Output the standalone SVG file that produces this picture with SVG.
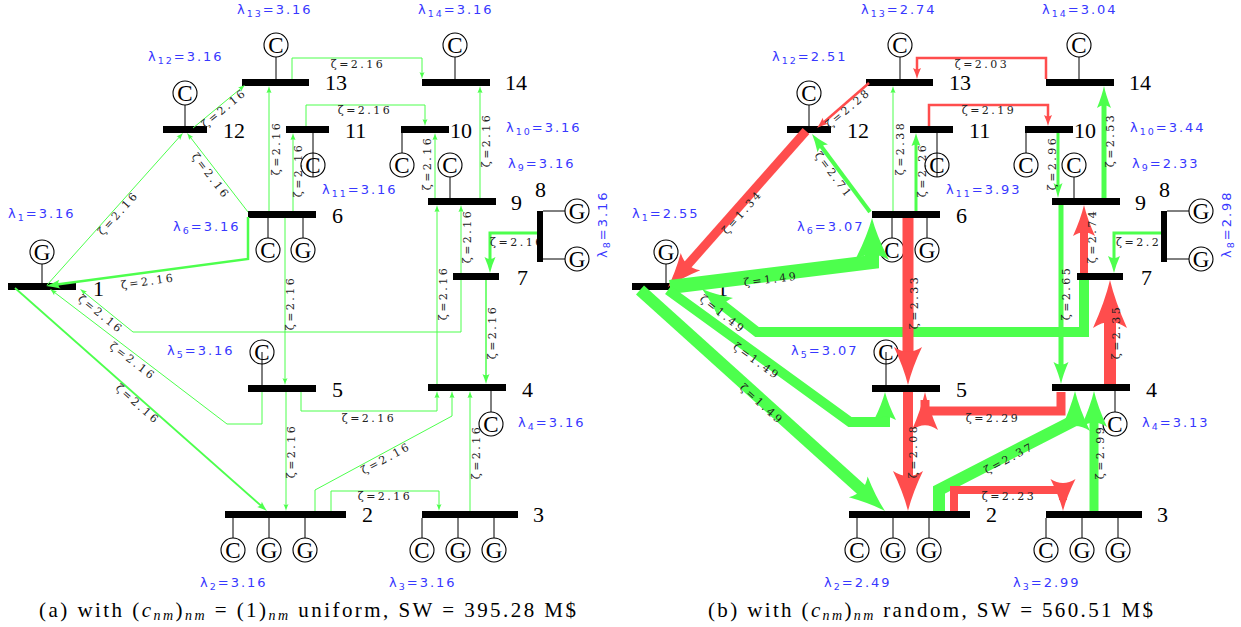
<svg xmlns="http://www.w3.org/2000/svg" width="1241" height="627" viewBox="0 0 1241 627">
<style>
.bar{fill:#000}
.stem{stroke:#000;stroke-width:1;fill:none}
.lam{font-family:'DejaVu Sans',sans-serif;font-size:13px;fill:#3838ff;letter-spacing:2px}
.sub{font-size:9.5px}
.num{font-family:'Liberation Serif',serif;font-size:22px;fill:#000}
.z{font-family:'DejaVu Serif',serif;font-size:11px;fill:#222;letter-spacing:2.5px;text-anchor:middle}
.zs{font-family:'DejaVu Serif',serif;font-size:11px;fill:#222;letter-spacing:2.5px}
.gl{stroke:#4dff4d;fill:none}
.rl{stroke:#ff4d4d;fill:none}
.gh{fill:#4dff4d}
.rh{fill:#ff4d4d}
.cap{font-family:'Liberation Serif',serif;font-size:21px;fill:#000}
.cs{font-size:14px;font-style:italic}
.sym{font-family:'Liberation Serif',serif;font-size:23px;text-anchor:middle}
</style>
<defs>
<path id="ah" d="M0,0 Q-0.45,0.15 -1,0.5 Q-0.75,0 -1,-0.5 Q-0.45,-0.15 0,0Z"/>
<g id="sC"><circle r="12" fill="none" stroke="#000" stroke-width="1.1"/><text class="sym" y="8">C</text></g>
<g id="sG"><circle r="12" fill="none" stroke="#000" stroke-width="1.1"/><text class="sym" y="8">G</text></g>
</defs>
<rect width="1241" height="627" fill="#fff"/>

<!-- ===== Panel (a) nodes ===== -->
<g id="a-bus1"><rect class="bar" x="8" y="283" width="68" height="7"/><line class="stem" x1="42" y1="264" x2="42" y2="283"/><use href="#sG" x="42" y="252"/><text class="num" x="93" y="296">1</text><text class="lam" x="8" y="218">λ<tspan class="sub" dy="3">1</tspan><tspan dy="-3">=3.16</tspan></text></g>
<g id="a-bus12"><rect class="bar" x="163" y="126" width="44" height="7"/><line class="stem" x1="185" y1="105" x2="185" y2="126"/><use href="#sC" x="185" y="93"/><text class="num" x="223" y="138">12</text><text class="lam" x="148" y="61">λ<tspan class="sub" dy="3">12</tspan><tspan dy="-3">=3.16</tspan></text></g>
<g id="a-bus13"><rect class="bar" x="242" y="79" width="67" height="7"/><line class="stem" x1="276" y1="57" x2="276" y2="79"/><use href="#sC" x="276" y="45"/><text class="num" x="325" y="90">13</text><text class="lam" x="237" y="14">λ<tspan class="sub" dy="3">13</tspan><tspan dy="-3">=3.16</tspan></text></g>
<g id="a-bus14"><rect class="bar" x="422" y="79" width="68" height="7"/><line class="stem" x1="455" y1="57" x2="455" y2="79"/><use href="#sC" x="455" y="45"/><text class="num" x="505" y="90">14</text><text class="lam" x="418" y="14">λ<tspan class="sub" dy="3">14</tspan><tspan dy="-3">=3.16</tspan></text></g>
<g id="a-bus11"><rect class="bar" x="286" y="126" width="43" height="7"/><line class="stem" x1="313" y1="133" x2="313" y2="177"/><use href="#sC" x="313" y="165"/><text class="num" x="345" y="138">11</text><text class="lam" x="322" y="194">λ<tspan class="sub" dy="3">11</tspan><tspan dy="-3">=3.16</tspan></text></g>
<g id="a-bus10"><rect class="bar" x="401" y="126" width="48" height="7"/><line class="stem" x1="402" y1="133" x2="402" y2="153"/><use href="#sC" x="402" y="165"/><text class="num" x="450" y="138">10</text><text class="lam" x="506" y="132">λ<tspan class="sub" dy="3">10</tspan><tspan dy="-3">=3.16</tspan></text></g>
<g id="a-bus9"><rect class="bar" x="428" y="198" width="68" height="7"/><line class="stem" x1="450" y1="177" x2="450" y2="198"/><use href="#sC" x="450" y="165"/><text class="num" x="511" y="210">9</text><text class="lam" x="508" y="168">λ<tspan class="sub" dy="3">9</tspan><tspan dy="-3">=3.16</tspan></text></g>
<g id="a-bus6"><rect class="bar" x="248" y="211" width="68" height="7"/><line class="stem" x1="268" y1="218" x2="268" y2="238"/><line class="stem" x1="303" y1="218" x2="303" y2="238"/><use href="#sC" x="268" y="250"/><use href="#sG" x="303" y="250"/><text class="num" x="332" y="223">6</text><text class="lam" x="173" y="231">λ<tspan class="sub" dy="3">6</tspan><tspan dy="-3">=3.16</tspan></text></g>
<g id="a-bus7"><rect class="bar" x="453" y="273" width="46" height="7"/><text class="num" x="517" y="285">7</text></g>
<g id="a-bus5"><rect class="bar" x="248" y="385" width="68" height="7"/><line class="stem" x1="262" y1="352" x2="262" y2="385"/><use href="#sC" x="262" y="352"/><text class="num" x="332" y="397">5</text><text class="lam" x="167" y="355">λ<tspan class="sub" dy="3">5</tspan><tspan dy="-3">=3.16</tspan></text></g>
<g id="a-bus4"><rect class="bar" x="428" y="384" width="78" height="7"/><line class="stem" x1="491" y1="391" x2="491" y2="412"/><use href="#sC" x="491" y="424"/><text class="num" x="522" y="397">4</text><text class="lam" x="518" y="427">λ<tspan class="sub" dy="3">4</tspan><tspan dy="-3">=3.16</tspan></text></g>
<g id="a-bus2"><rect class="bar" x="225" y="511" width="121" height="7"/><line class="stem" x1="233" y1="518" x2="233" y2="538"/><line class="stem" x1="269" y1="518" x2="269" y2="538"/><line class="stem" x1="305" y1="518" x2="305" y2="538"/><use href="#sC" x="233" y="550"/><use href="#sG" x="269" y="550"/><use href="#sG" x="305" y="550"/><text class="num" x="362" y="522">2</text><text class="lam" x="200" y="587">λ<tspan class="sub" dy="3">2</tspan><tspan dy="-3">=3.16</tspan></text></g>
<g id="a-bus3"><rect class="bar" x="422" y="511" width="96" height="7"/><line class="stem" x1="422" y1="518" x2="422" y2="538"/><line class="stem" x1="458" y1="518" x2="458" y2="538"/><line class="stem" x1="494" y1="518" x2="494" y2="538"/><use href="#sC" x="422" y="550"/><use href="#sG" x="458" y="550"/><use href="#sG" x="494" y="550"/><text class="num" x="533" y="522">3</text><text class="lam" x="389" y="587">λ<tspan class="sub" dy="3">3</tspan><tspan dy="-3">=3.16</tspan></text></g>

<!-- ===== Panel (b) nodes ===== -->
<g id="b-bus1" transform="translate(624,0)"><rect class="bar" x="8" y="283" width="68" height="7"/><line class="stem" x1="42" y1="264" x2="42" y2="283"/><use href="#sG" x="42" y="252"/><text class="num" x="93" y="296">1</text><text class="lam" x="8" y="218">λ<tspan class="sub" dy="3">1</tspan><tspan dy="-3">=2.55</tspan></text></g>
<g id="b-bus12" transform="translate(624,0)"><rect class="bar" x="163" y="126" width="44" height="7"/><line class="stem" x1="185" y1="105" x2="185" y2="126"/><use href="#sC" x="185" y="93"/><text class="num" x="223" y="138">12</text><text class="lam" x="148" y="61">λ<tspan class="sub" dy="3">12</tspan><tspan dy="-3">=2.51</tspan></text></g>
<g id="b-bus13" transform="translate(624,0)"><rect class="bar" x="242" y="79" width="67" height="7"/><line class="stem" x1="276" y1="57" x2="276" y2="79"/><use href="#sC" x="276" y="45"/><text class="num" x="325" y="90">13</text><text class="lam" x="237" y="14">λ<tspan class="sub" dy="3">13</tspan><tspan dy="-3">=2.74</tspan></text></g>
<g id="b-bus14" transform="translate(624,0)"><rect class="bar" x="422" y="79" width="68" height="7"/><line class="stem" x1="455" y1="57" x2="455" y2="79"/><use href="#sC" x="455" y="45"/><text class="num" x="505" y="90">14</text><text class="lam" x="418" y="14">λ<tspan class="sub" dy="3">14</tspan><tspan dy="-3">=3.04</tspan></text></g>
<g id="b-bus11" transform="translate(624,0)"><rect class="bar" x="286" y="126" width="43" height="7"/><line class="stem" x1="313" y1="133" x2="313" y2="177"/><use href="#sC" x="313" y="165"/><text class="num" x="345" y="138">11</text><text class="lam" x="322" y="194">λ<tspan class="sub" dy="3">11</tspan><tspan dy="-3">=3.93</tspan></text></g>
<g id="b-bus10" transform="translate(624,0)"><rect class="bar" x="401" y="126" width="48" height="7"/><line class="stem" x1="402" y1="133" x2="402" y2="153"/><use href="#sC" x="402" y="165"/><text class="num" x="450" y="138">10</text><text class="lam" x="506" y="132">λ<tspan class="sub" dy="3">10</tspan><tspan dy="-3">=3.44</tspan></text></g>
<g id="b-bus9" transform="translate(624,0)"><rect class="bar" x="428" y="198" width="68" height="7"/><line class="stem" x1="450" y1="177" x2="450" y2="198"/><use href="#sC" x="450" y="165"/><text class="num" x="511" y="210">9</text><text class="lam" x="508" y="168">λ<tspan class="sub" dy="3">9</tspan><tspan dy="-3">=2.33</tspan></text></g>
<g id="b-bus6" transform="translate(624,0)"><rect class="bar" x="248" y="211" width="68" height="7"/><line class="stem" x1="268" y1="218" x2="268" y2="238"/><line class="stem" x1="303" y1="218" x2="303" y2="238"/><use href="#sC" x="268" y="250"/><use href="#sG" x="303" y="250"/><text class="num" x="332" y="223">6</text><text class="lam" x="173" y="231">λ<tspan class="sub" dy="3">6</tspan><tspan dy="-3">=3.07</tspan></text></g>
<g id="b-bus7" transform="translate(624,0)"><rect class="bar" x="453" y="273" width="46" height="7"/><text class="num" x="517" y="285">7</text></g>
<g id="b-bus5" transform="translate(624,0)"><rect class="bar" x="248" y="385" width="68" height="7"/><line class="stem" x1="262" y1="352" x2="262" y2="385"/><use href="#sC" x="262" y="352"/><text class="num" x="332" y="397">5</text><text class="lam" x="167" y="355">λ<tspan class="sub" dy="3">5</tspan><tspan dy="-3">=3.07</tspan></text></g>
<g id="b-bus4" transform="translate(624,0)"><rect class="bar" x="428" y="384" width="78" height="7"/><line class="stem" x1="491" y1="391" x2="491" y2="412"/><use href="#sC" x="491" y="424"/><text class="num" x="522" y="397">4</text><text class="lam" x="518" y="427">λ<tspan class="sub" dy="3">4</tspan><tspan dy="-3">=3.13</tspan></text></g>
<g id="b-bus2" transform="translate(624,0)"><rect class="bar" x="225" y="511" width="121" height="7"/><line class="stem" x1="233" y1="518" x2="233" y2="538"/><line class="stem" x1="269" y1="518" x2="269" y2="538"/><line class="stem" x1="305" y1="518" x2="305" y2="538"/><use href="#sC" x="233" y="550"/><use href="#sG" x="269" y="550"/><use href="#sG" x="305" y="550"/><text class="num" x="362" y="522">2</text><text class="lam" x="200" y="587">λ<tspan class="sub" dy="3">2</tspan><tspan dy="-3">=2.49</tspan></text></g>
<g id="b-bus3" transform="translate(624,0)"><rect class="bar" x="422" y="511" width="96" height="7"/><line class="stem" x1="422" y1="518" x2="422" y2="538"/><line class="stem" x1="458" y1="518" x2="458" y2="538"/><line class="stem" x1="494" y1="518" x2="494" y2="538"/><use href="#sC" x="422" y="550"/><use href="#sG" x="458" y="550"/><use href="#sG" x="494" y="550"/><text class="num" x="533" y="522">3</text><text class="lam" x="389" y="587">λ<tspan class="sub" dy="3">3</tspan><tspan dy="-3">=2.99</tspan></text></g>

<!-- ===== Connectors (a) ===== -->
<g id="connectors-a">
<path class="gl" d="M292,79 V58 H422 V76"/><use href="#ah" class="gh" transform="translate(422,79) rotate(90) scale(7,5)"/>
<path class="gl" d="M306,126 V105 H425 V123"/><use href="#ah" class="gh" transform="translate(425,126) rotate(90) scale(7,5)"/>
<path class="gl" d="M193,128 L242.7,86.9"/><use href="#ah" class="gh" transform="translate(245,85) rotate(-39.6) scale(7,5)"/>
<path class="gl" d="M269,211 V89"/><use href="#ah" class="gh" transform="translate(269,86) rotate(-90) scale(7,5)"/>
<path class="gl" d="M293,211 V136"/><use href="#ah" class="gh" transform="translate(293,133) rotate(-90) scale(7,5)"/>
<path class="gl" d="M248,212 L189,135.5"/><use href="#ah" class="gh" transform="translate(187,133) rotate(-127.7) scale(7,5)"/>
<path class="gl" d="M47,285 L181,135.2"/><use href="#ah" class="gh" transform="translate(183,133) rotate(-48.2) scale(7,5)"/>
<path class="gl" stroke-width="2.5" d="M248,217 V259 L53,285"/><use href="#ah" class="gh" transform="translate(46,286) rotate(172.3) scale(14,9)"/>
<path class="gl" d="M461,280 V332 H133 L82.3,290.9"/><use href="#ah" class="gh" transform="translate(80,289) rotate(-141) scale(7,5)"/>
<path class="gl" d="M262,392 V424 H227 L52.4,290.8"/><use href="#ah" class="gh" transform="translate(50,289) rotate(-142.7) scale(7,5)"/>
<path class="gl" stroke-width="1.8" d="M15,288 L263.3,507.7"/><use href="#ah" class="gh" transform="translate(267,511) rotate(41.5) scale(10,7)"/>
<path class="gl" d="M285,218 V382"/><use href="#ah" class="gh" transform="translate(285,385) rotate(90) scale(7,5)"/>
<path class="gl" d="M286,392 V508"/><use href="#ah" class="gh" transform="translate(286,511) rotate(90) scale(7,5)"/>
<path class="gl" d="M461,273 V208"/><use href="#ah" class="gh" transform="translate(461,205) rotate(-90) scale(7,5)"/>
<path class="gl" d="M437,384 V208"/><use href="#ah" class="gh" transform="translate(437,205) rotate(-90) scale(7,5)"/>
<path class="gl" d="M435,198 V136"/><use href="#ah" class="gh" transform="translate(435,133) rotate(-90) scale(7,5)"/>
<path class="gl" d="M480,198 V89"/><use href="#ah" class="gh" transform="translate(480,86) rotate(-90) scale(7,5)"/>
<path class="gl" stroke-width="3" d="M538,233 H490 V265"/><use href="#ah" class="gh" transform="translate(490,273) rotate(90) scale(16,11)"/>
<path class="gl" stroke-width="1.5" d="M486,280 V379"/><use href="#ah" class="gh" transform="translate(486,384) rotate(90) scale(10,7)"/>
<path class="gl" d="M301,392 V411 H437 V394"/><use href="#ah" class="gh" transform="translate(437,391) rotate(-90) scale(7,5)"/>
<path class="gl" d="M315,511 V490 L452,416 V394"/><use href="#ah" class="gh" transform="translate(452,391) rotate(-90) scale(7,5)"/>
<path class="gl" d="M470,511 V394"/><use href="#ah" class="gh" transform="translate(470,391) rotate(-90) scale(7,5)"/>
<path class="gl" d="M331,511 V491 H439 V508"/><use href="#ah" class="gh" transform="translate(439,511) rotate(90) scale(7,5)"/>
<g id="labels-a">
<text class="z" transform="translate(358,64)" y="4">ζ=2.16</text>
<text class="z" transform="translate(365,110)" y="4">ζ=2.16</text>
<text class="z" transform="translate(224,108) rotate(-39.6)" y="4">ζ=2.16</text>
<text class="z" transform="translate(276,148) rotate(-90)" y="4">ζ=2.16</text>
<text class="z" transform="translate(298,170) rotate(-90)" y="4">ζ=2.16</text>
<text class="z" transform="translate(211,176) rotate(52.7)" y="4">ζ=2.16</text>
<text class="z" transform="translate(118,213) rotate(-48.2)" y="4">ζ=2.16</text>
<text class="z" transform="translate(148,281) rotate(-7.7)" y="4">ζ=2.16</text>
<text class="z" transform="translate(101,314) rotate(39)" y="4">ζ=2.16</text>
<text class="z" transform="translate(133,361) rotate(37.3)" y="4">ζ=2.16</text>
<text class="z" transform="translate(138,404) rotate(41.5)" y="4">ζ=2.16</text>
<text class="z" transform="translate(290,303) rotate(-90)" y="4">ζ=2.16</text>
<text class="z" transform="translate(291,451) rotate(-90)" y="4">ζ=2.16</text>
<text class="z" transform="translate(467,236) rotate(-90)" y="4">ζ=2.16</text>
<text class="z" transform="translate(443,293) rotate(-90)" y="4">ζ=2.16</text>
<text class="z" transform="translate(427,163) rotate(-90)" y="4">ζ=2.16</text>
<text class="z" transform="translate(486,140) rotate(-90)" y="4">ζ=2.16</text>
<text class="zs" x="490" y="246">ζ=2.16</text>
<text class="z" transform="translate(492,332) rotate(-90)" y="4">ζ=2.16</text>
<text class="z" transform="translate(369,418)" y="4">ζ=2.16</text>
<text class="z" transform="translate(386,458) rotate(-28.4)" y="4">ζ=2.16</text>
<text class="z" transform="translate(476,452) rotate(-90)" y="4">ζ=2.16</text>
<text class="z" transform="translate(385,496)" y="4">ζ=2.16</text>
</g>
</g>

<!-- ===== Connectors (b) ===== -->
<g id="connectors-b">
<path class="rl" stroke-width="2.5" d="M1046,79 V58 H917 V73"/><use href="#ah" class="rh" transform="translate(917,79) rotate(90) scale(11,8)"/>
<path class="rl" stroke-width="2.5" d="M929,126 V105 H1048 V120"/><use href="#ah" class="rh" transform="translate(1048,126) rotate(90) scale(11,8)"/>
<path class="rl" stroke-width="2.5" d="M869,83 L821,124.7"/><use href="#ah" class="rh" transform="translate(817,128) rotate(139.1) scale(11,8)"/>
<path class="gl" d="M893,211 V89"/><use href="#ah" class="gh" transform="translate(893,86) rotate(-90) scale(7,5)"/>
<path class="gl" stroke-width="3" d="M916,211 V141"/><use href="#ah" class="gh" transform="translate(916,133) rotate(-90) scale(13,9)"/>
<path class="gl" stroke-width="4" d="M870,212 L817.4,141.2"/><use href="#ah" class="gh" transform="translate(812,134) rotate(-126.6) scale(18,13)"/>
<path class="rl" stroke-width="9" d="M806,131 L680,273.5"/><use href="#ah" class="rh" transform="translate(668,287) rotate(131.5) scale(34,26)"/>
<path class="gl" stroke-width="14" d="M670,287 L872,262 V243"/><use href="#ah" class="gh" transform="translate(872,218) rotate(-90) scale(42,34)"/>
<path class="gl" stroke-width="10" d="M1084,280 V332 H757 L715.4,299.5"/><use href="#ah" class="gh" transform="translate(702,289) rotate(-142) scale(30,24)"/>
<path class="gl" stroke-width="10" d="M668,290 L850,422 H885 V409"/><use href="#ah" class="gh" transform="translate(885,392) rotate(-90) scale(28,22)"/>
<path class="gl" stroke-width="12" d="M640,290 L870.1,497.6"/><use href="#ah" class="gh" transform="translate(885,511) rotate(42) scale(36,28)"/>
<path class="rl" stroke-width="11" d="M908,218 V363"/><use href="#ah" class="rh" transform="translate(908,385) rotate(90) scale(38,28)"/>
<path class="rl" stroke-width="10" d="M908,392 V488"/><use href="#ah" class="rh" transform="translate(908,511) rotate(90) scale(40,30)"/>
<path class="rl" stroke-width="9" d="M1061,392 V411 H925 V400"/><use href="#ah" class="rh" transform="translate(925,392) rotate(-90) scale(38,26)"/>
<path class="gl" stroke-width="5" d="M1061,205 V371"/><use href="#ah" class="gh" transform="translate(1061,384) rotate(90) scale(22,15)"/>
<path class="gl" stroke-width="3" d="M1058,133 V190"/><use href="#ah" class="gh" transform="translate(1058,198) rotate(90) scale(15,9)"/>
<path class="gl" stroke-width="5" d="M1104,198 V99"/><use href="#ah" class="gh" transform="translate(1104,86) rotate(-90) scale(22,14)"/>
<path class="rl" stroke-width="8" d="M1084,273 V223"/><use href="#ah" class="rh" transform="translate(1084,205) rotate(-90) scale(31,22)"/>
<path class="gl" stroke-width="3" d="M1162,233 H1114 V263"/><use href="#ah" class="gh" transform="translate(1114,273) rotate(90) scale(17,12)"/>
<path class="rl" stroke-width="12" d="M1110,384 V308"/><use href="#ah" class="rh" transform="translate(1110,280) rotate(-90) scale(48,34)"/>
<path class="gl" stroke-width="12" d="M939,511 V490 L1075,420 V410"/><use href="#ah" class="gh" transform="translate(1075,391) rotate(-90) scale(40,30)"/>
<path class="gl" stroke-width="9" d="M1094,511 V414"/><use href="#ah" class="gh" transform="translate(1094,391) rotate(-90) scale(36,26)"/>
<path class="rl" stroke-width="8" d="M954,511 V490 H1063 V500"/><use href="#ah" class="rh" transform="translate(1063,511) rotate(90) scale(32,25)"/>
<g id="labels-b">
<text class="z" transform="translate(982,64)" y="4">ζ=2.03</text>
<text class="z" transform="translate(989,110)" y="4">ζ=2.19</text>
<text class="z" transform="translate(848,108) rotate(-40)" y="4">ζ=2.28</text>
<text class="z" transform="translate(900,148) rotate(-90)" y="4">ζ=2.38</text>
<text class="z" transform="translate(922,170) rotate(-90)" y="4">ζ=2.26</text>
<text class="z" transform="translate(834,175) rotate(53)" y="4">ζ=2.71</text>
<text class="z" transform="translate(742,212) rotate(-48.5)" y="4">ζ=1.34</text>
<text class="z" transform="translate(771,279) rotate(-7)" y="4">ζ=1.49</text>
<text class="z" transform="translate(723,314) rotate(38)" y="4">ζ=1.49</text>
<text class="z" transform="translate(757,361) rotate(36)" y="4">ζ=1.49</text>
<text class="z" transform="translate(762,404) rotate(42)" y="4">ζ=1.49</text>
<text class="z" transform="translate(914,302) rotate(-90)" y="4">ζ=2.33</text>
<text class="z" transform="translate(913,451) rotate(-90)" y="4">ζ=2.08</text>
<text class="z" transform="translate(993,418)" y="4">ζ=2.29</text>
<text class="z" transform="translate(1066,293) rotate(-90)" y="4">ζ=2.65</text>
<text class="z" transform="translate(1052,163) rotate(-90)" y="4">ζ=2.96</text>
<text class="z" transform="translate(1110,140) rotate(-90)" y="4">ζ=2.53</text>
<text class="z" transform="translate(1092,236) rotate(-90)" y="4">ζ=2.74</text>
<text class="zs" x="1116" y="246">ζ=2.2</text>
<text class="z" transform="translate(1116,332) rotate(-90)" y="4">ζ=2.35</text>
<text class="z" transform="translate(1009,458) rotate(-28)" y="4">ζ=2.37</text>
<text class="z" transform="translate(1100,452) rotate(-90)" y="4">ζ=2.99</text>
<text class="z" transform="translate(1009,496)" y="4">ζ=2.23</text>
</g>
</g>

<!-- bus 8 drawn last (bar covers edge label) -->
<g id="a-bus8"><rect class="bar" x="537" y="211" width="6" height="51"/><line class="stem" x1="543" y1="211" x2="565" y2="211"/><line class="stem" x1="543" y1="259" x2="565" y2="259"/><use href="#sG" x="577" y="211"/><use href="#sG" x="577" y="259"/><text class="num" x="535" y="197">8</text><text class="lam" transform="translate(607,258) rotate(-90)">λ<tspan class="sub" dy="3">8</tspan><tspan dy="-3">=3.16</tspan></text></g>
<g id="b-bus8" transform="translate(624,0)"><rect class="bar" x="537" y="211" width="6" height="51"/><line class="stem" x1="543" y1="211" x2="565" y2="211"/><line class="stem" x1="543" y1="259" x2="565" y2="259"/><use href="#sG" x="577" y="211"/><use href="#sG" x="577" y="259"/><text class="num" x="535" y="197">8</text><text class="lam" transform="translate(607,258) rotate(-90)">λ<tspan class="sub" dy="3">8</tspan><tspan dy="-3">=2.98</tspan></text></g>

<!-- captions -->
<text class="cap" x="39" y="617" textLength="537" lengthAdjust="spacing">(a) with (<tspan font-style="italic">c</tspan><tspan class="cs" dy="3">nm</tspan><tspan dy="-3">)</tspan><tspan class="cs" dy="3">nm</tspan><tspan dy="-3"> = (1)</tspan><tspan class="cs" dy="3">nm</tspan><tspan dy="-3"> uniform, SW  = 395.28 M$</tspan></text>
<text class="cap" x="708" y="617" textLength="445" lengthAdjust="spacing">(b) with (<tspan font-style="italic">c</tspan><tspan class="cs" dy="3">nm</tspan><tspan dy="-3">)</tspan><tspan class="cs" dy="3">nm</tspan><tspan dy="-3"> random, SW  = 560.51 M$</tspan></text>
</svg>
